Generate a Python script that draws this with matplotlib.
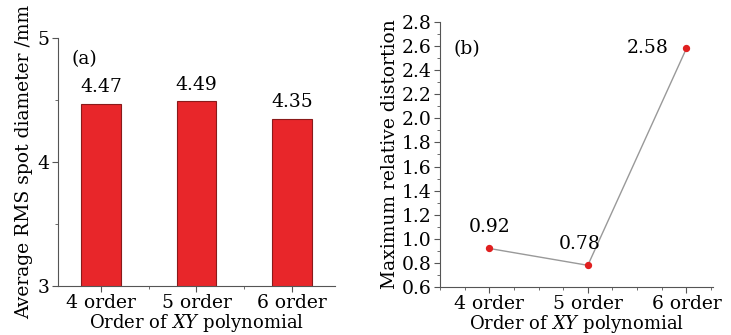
import matplotlib.pyplot as plt
from matplotlib.ticker import MultipleLocator

orders = ['4 order', '5 order', '6 order']
spot_diameter = [4.47, 4.49, 4.35]
distortion = [0.92, 0.78, 2.58]

plt.rcParams['font.family'] = ['DejaVu Serif']
plt.rcParams['mathtext.fontset'] = 'dejavuserif'
fs = 13.5

fig = plt.figure(figsize=(7.31, 3.35), dpi=100)

# (a) bar chart
ax1 = fig.add_axes([58/731, 1 - 286/335, 277/731, 248/335])
x = range(len(orders))
ax1.bar(x, spot_diameter, width=0.41, color='#e8262a', edgecolor='#8a1a1a', linewidth=0.8)
for i, v in enumerate(spot_diameter):
    ax1.text(i, v + 0.06, f'{v:.2f}', ha='center', va='bottom', fontsize=fs)
ax1.set_ylim(3, 5)
ax1.set_xlim(-0.45, 2.45)
ax1.set_yticks([3, 4, 5])
ax1.yaxis.set_minor_locator(MultipleLocator(0.5))
ax1.set_xticks(list(x))
ax1.set_xticklabels(orders)
ax1.xaxis.set_minor_locator(MultipleLocator(0.5))
ax1.set_ylabel('Average RMS spot diameter /mm', fontsize=fs, labelpad=3)
ax1.set_xlabel('Order of $XY$ polynomial', fontsize=13, labelpad=0)
ax1.text(0.05, 0.95, '(a)', transform=ax1.transAxes, fontsize=fs, va='top')

# (b) line chart
ax2 = fig.add_axes([440/731, 1 - 287/335, 273/731, 265/335])
ax2.plot(list(x), distortion, color='#999999', linewidth=1.0, zorder=1)
ax2.scatter(list(x), distortion, color='#e02020', s=18, zorder=2)
ax2.text(0, 0.92 + 0.1, '0.92', ha='center', va='bottom', fontsize=fs)
ax2.text(0.92, 0.78 + 0.1, '0.78', ha='center', va='bottom', fontsize=fs)
ax2.text(1.82, 2.58, '2.58', ha='right', va='center', fontsize=fs)
ax2.set_ylim(0.6, 2.8)
ax2.set_xlim(-0.5, 2.27)
ax2.yaxis.set_major_locator(MultipleLocator(0.2))
ax2.yaxis.set_minor_locator(MultipleLocator(0.1))
ax2.yaxis.set_major_formatter(plt.FormatStrFormatter('%.1f'))
ax2.set_xticks(list(x))
ax2.set_xticklabels(orders)
ax2.xaxis.set_minor_locator(MultipleLocator(0.25))
ax2.set_ylabel('Maximum relative distortion', fontsize=fs, labelpad=2)
ax2.set_xlabel('Order of $XY$ polynomial', fontsize=13, labelpad=0)
ax2.text(0.05, 0.93, '(b)', transform=ax2.transAxes, fontsize=fs, va='top')

for ax in (ax1, ax2):
    ax.spines['top'].set_visible(False)
    ax.spines['right'].set_visible(False)
    ax.spines['left'].set_color('#555555')
    ax.spines['bottom'].set_color('#555555')
    ax.tick_params(which='major', length=4, color='#555555', labelsize=fs, pad=2)
    ax.tick_params(which='minor', length=2, color='#555555')

fig.savefig('out.png', dpi=100)
